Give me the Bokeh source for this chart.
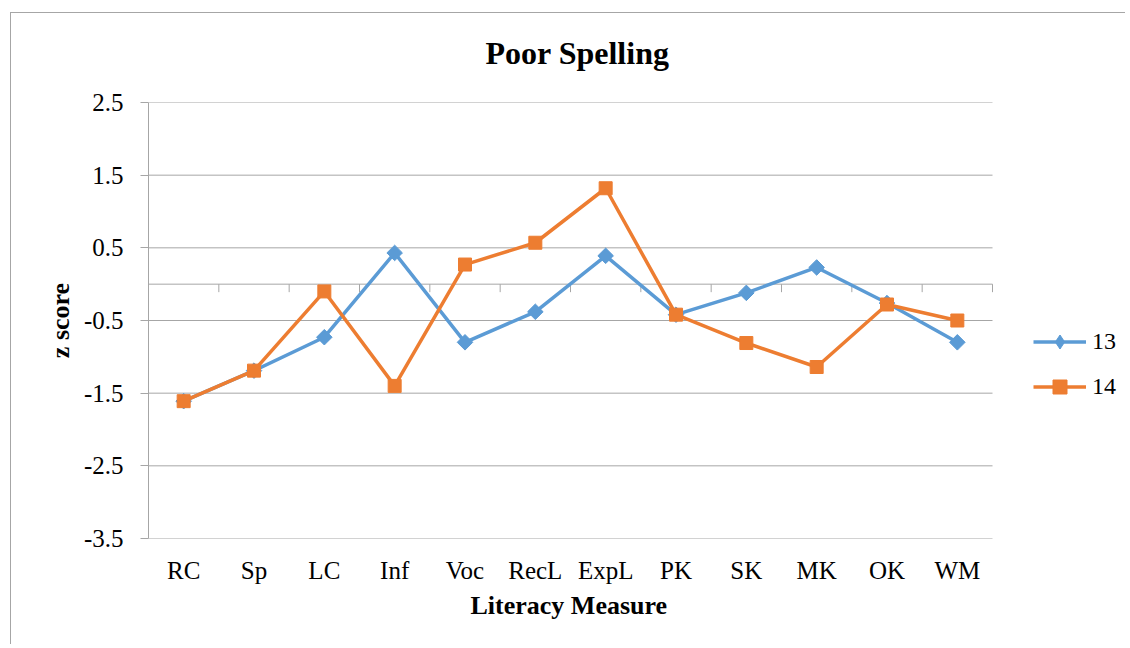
import numpy as np
from bokeh.plotting import figure
from bokeh.models import Range1d, FixedTicker, Legend, LegendItem, Title
from bokeh.embed import file_html
from bokeh.resources import INLINE

# ---- data ----
measures = ["RC", "Sp", "LC", "Inf", "Voc", "RecL", "ExpL", "PK", "SK", "MK", "OK", "WM"]
series_names = ["13", "14"]
age13 = [-1.61, -1.19, -0.73, 0.43, -0.80, -0.38, 0.39, -0.42, -0.12, 0.23, -0.26, -0.80]
age14 = [-1.61, -1.19, -0.10, -1.40, 0.27, 0.57, 1.32, -0.42, -0.81, -1.14, -0.28, -0.50]
y_ticks = [-3.5, -2.5, -1.5, -0.5, 0.5, 1.5, 2.5]
y_tick_labels = ["-3.5", "-2.5", "-1.5", "-0.5", "0.5", "1.5", "2.5"]

FONT = "Liberation Serif"
GREY = "#a6a6a6"
BLUE = "#5B9BD5"
ORANGE = "#ED7D31"

n = len(measures)
xpos = np.arange(n) + 0.5           # category centres
bounds = np.arange(n + 1)           # category boundaries

# frame extends to the right to host the legend (outside the category area)
CAT_W = 844
FRAME_W = 972
x_end = n * FRAME_W / CAT_W

p = figure(
    x_range=Range1d(0, x_end),
    y_range=Range1d(-3.5, 2.5),
    width=1115, height=632,
    min_border_left=137, min_border_right=6, min_border_top=89, min_border_bottom=107,
    output_backend="svg", toolbar_location=None,
    margin=(12, 0, 0, 10),
    styles={"border-left": "1px solid #a6a6a6", "border-top": "1px solid #a6a6a6"},
)
p.outline_line_color = None

# spacer between frame and title (closest to frame), then the title itself
spacer = Title(text=" ", text_font_size="1px", standoff=29)
p.add_layout(spacer, "above")
title = Title(text="Poor Spelling", text_font=FONT, text_font_size="32px",
              text_font_style="bold", text_color="black", align="left",
              standoff=0, offset=337)
p.add_layout(title, "above")

# y axis
p.yaxis.ticker = FixedTicker(ticks=y_ticks)
p.yaxis.major_label_overrides = {t: l for t, l in zip(y_ticks, y_tick_labels)}
p.yaxis.major_label_text_font = FONT
p.yaxis.major_label_text_font_size = "25px"
p.yaxis.major_label_text_color = "black"
p.yaxis.major_label_standoff = 17
p.yaxis.major_tick_out = 8
p.yaxis.major_tick_in = 0
p.yaxis.minor_tick_line_color = None
p.yaxis.axis_line_color = GREY
p.yaxis.major_tick_line_color = GREY
p.yaxis.axis_label = "z score"
p.yaxis.axis_label_text_font = FONT
p.yaxis.axis_label_text_font_size = "26px"
p.yaxis.axis_label_text_font_style = "bold"
p.yaxis.axis_label_text_color = "black"
p.yaxis.axis_label_standoff = 6

# x axis (category labels)
p.xaxis.ticker = FixedTicker(ticks=list(xpos))
p.xaxis.major_label_overrides = {float(x): m for x, m in zip(xpos, measures)}
p.xaxis.axis_line_color = None
p.xaxis.major_tick_line_color = None
p.xaxis.minor_tick_line_color = None
p.xaxis.major_label_text_font = FONT
p.xaxis.major_label_text_font_size = "25px"
p.xaxis.major_label_text_color = "black"
p.xaxis.major_label_standoff = 12

xtitle = Title(text="Literacy Measure", text_font=FONT, text_font_size="26px",
               text_font_style="bold", text_color="black", align="left",
               standoff=4, offset=322)
p.add_layout(xtitle, "below")

# grid (only across the category area)
p.xgrid.grid_line_color = None
p.ygrid.grid_line_color = None
p.segment(x0=[0] * len(y_ticks), y0=y_ticks, x1=[n] * len(y_ticks), y1=y_ticks,
          line_color=GREY, line_width=1)

# horizontal category axis at y = 0 with boundary ticks
p.segment(x0=[0], y0=[0], x1=[n], y1=[0], line_color=GREY, line_width=1)
p.segment(x0=bounds, y0=[0] * len(bounds), x1=bounds, y1=[-0.11] * len(bounds),
          line_color=GREY, line_width=1)

l13 = p.line(xpos, age13, line_color=BLUE, line_width=3.5)
# small diamond hidden under the rotated squares; it supplies the legend's diamond glyph
d13 = p.scatter(xpos, age13, marker="diamond", size=9, fill_color=BLUE, line_color=BLUE)
s13 = p.scatter(xpos, age13, marker="square", angle=np.pi / 4, size=11,
                fill_color=BLUE, line_color=BLUE)
l14 = p.line(xpos, age14, line_color=ORANGE, line_width=3.5)
s14 = p.scatter(xpos, age14, marker="square", size=13,
                fill_color=ORANGE, line_color=ORANGE)

legend = Legend(
    items=[LegendItem(label=series_names[0], renderers=[l13, d13]),
           LegendItem(label=series_names[1], renderers=[l14, s14])],
    location=(885, 134),
    padding=0, margin=0, spacing=10,
    glyph_width=53, glyph_height=35, label_height=35, label_standoff=6,
    label_text_font=FONT, label_text_font_size="24px", label_text_color="black",
    border_line_alpha=0, background_fill_alpha=0,
)
p.add_layout(legend, "center")

open("out.html", "w").write(file_html(p, INLINE))
